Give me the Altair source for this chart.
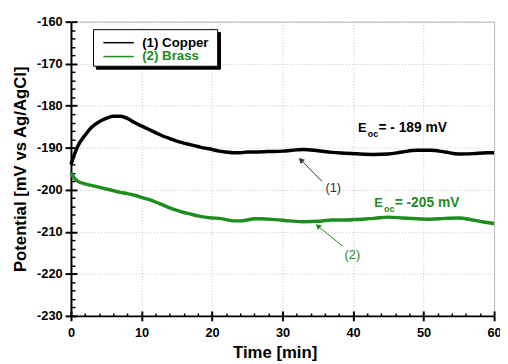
import altair as alt
import pandas as pd

FONT = "Liberation Sans"
GREEN = "#1e8c1e"

# ---- data ----
time_cu = [0, 0.5, 1, 2, 3, 4, 5, 6, 7, 8, 9, 10, 11, 12, 13, 14, 15, 16, 17, 18, 19, 20,
           21, 22, 23, 24, 25, 26, 28, 30, 32, 33, 35, 37, 39, 41, 43, 45, 47, 49, 51, 53,
           55, 57, 59, 60]
pot_cu = [-194.0, -191.5, -189.5, -187.0, -185.0, -183.8, -183.0, -182.5, -182.5, -183.0,
          -184.0, -184.8, -185.6, -186.4, -187.2, -187.8, -188.4, -188.9, -189.3, -189.7,
          -190.1, -190.4, -190.8, -191.0, -191.2, -191.2, -191.0, -191.0, -190.9, -190.8,
          -190.5, -190.4, -190.7, -191.1, -191.3, -191.5, -191.6, -191.5, -191.0, -190.6,
          -190.6, -191.0, -191.5, -191.4, -191.2, -191.2]

time_br = [0, 0.5, 1, 2, 3, 4, 5, 6, 7, 8, 9, 10, 11, 12, 13, 14, 15, 16, 17, 18, 19, 20,
           21, 22, 23, 24, 25, 26, 27, 29, 31, 33, 35, 37, 39, 41, 43, 45, 47, 49, 51, 53,
           55, 57, 59, 60]
pot_br = [-196.0, -197.3, -198.0, -198.6, -199.0, -199.4, -199.8, -200.2, -200.6, -200.9,
          -201.3, -201.8, -202.3, -202.9, -203.6, -204.3, -204.9, -205.4, -205.8, -206.2,
          -206.5, -206.7, -206.8, -207.1, -207.4, -207.4, -207.2, -206.9, -206.9, -207.1,
          -207.4, -207.6, -207.5, -207.2, -207.2, -207.0, -206.8, -206.5, -206.7, -206.9,
          -207.0, -206.8, -206.7, -207.2, -207.8, -208.0]

series_names = ["(1) Copper", "(2) Brass"]
series_colors = ["black", GREEN]

x_major = [0, 10, 20, 30, 40, 50, 60]
y_major = [-230, -220, -210, -200, -190, -180, -170, -160]
x_minor = [2, 4, 6, 8, 12, 14, 16, 18, 22, 24, 26, 28, 32, 34, 36, 38, 42, 44, 46, 48,
           52, 54, 56, 58]
y_minor = [-228, -226, -224, -222, -218, -216, -214, -212, -208, -206, -204, -202,
           -198, -196, -194, -192, -188, -186, -184, -182, -178, -176, -174, -172,
           -168, -166, -164, -162]

# E_oc annotations (positions in data units)
eoc_text = ["E", "oc", "= - 189 mV", "E", "oc", "= -205 mV"]
eoc_t = [40.7, 42.1, 43.6, 43.0, 44.4, 45.9]
eoc_v = [-185.2, -186.7, -185.2, -203.2, -204.6, -203.2]
eoc_size = [13, 9, 14, 13, 9, 14]
eoc_color = ["black", "black", "black", GREEN, GREEN, GREEN]

# arrow labels
lab_text = ["(1)", "(2)"]
lab_t = [37.2, 39.9]
lab_v = [-199.7, -215.6]
lab_color = ["#333333", GREEN]

# arrows: tail -> head
arr_t0 = [35.6, 38.5]
arr_v0 = [-198.0, -213.4]
arr_t1 = [32.6, 35.0]
arr_v1 = [-192.9, -208.6]
arr_angle = [315, 310]
arr_color = ["#333333", GREEN]

# legend box
leg_box_t = [3.2, 20.8]
leg_box_v = [-161.9, -170.6]
leg_shadow_t = [3.6, 21.2]
leg_shadow_v = [-162.6, -171.3]
leg_line_t = [4.6, 8.9]
leg_line_v = [-165.0, -168.3]
leg_text_t = 10.1

# ---- tables ----
df = pd.concat([
    pd.DataFrame({"t": time_cu, "v": pot_cu, "s": series_names[0]}),
    pd.DataFrame({"t": time_br, "v": pot_br, "s": series_names[1]}),
])
eoc = pd.DataFrame({"t": eoc_t, "v": eoc_v, "txt": eoc_text, "size": eoc_size, "c": eoc_color})
labs = pd.DataFrame({"t": lab_t, "v": lab_v, "txt": lab_text, "c": lab_color})
arr = pd.DataFrame({"t0": arr_t0, "v0": arr_v0, "t1": arr_t1, "v1": arr_v1,
                    "ang": arr_angle, "c": arr_color})
leg_lines = pd.DataFrame({"t0": [leg_line_t[0]] * 2, "t1": [leg_line_t[1]] * 2,
                          "v": leg_line_v, "s": series_names, "tt": [leg_text_t] * 2})
box = pd.DataFrame({"t0": [leg_shadow_t[0], leg_box_t[0]], "t1": [leg_shadow_t[1], leg_box_t[1]],
                    "v0": [leg_shadow_v[0], leg_box_v[0]], "v1": [leg_shadow_v[1], leg_box_v[1]],
                    "fill": ["black", "white"], "stroke": ["black", "black"]})

xs = alt.Scale(domain=[0, 60], nice=False, zero=False)
ys = alt.Scale(domain=[-230, -160], nice=False, zero=False)
cs = alt.Scale(domain=series_names, range=series_colors)

main_x = alt.Axis(values=x_major, title="Time [min]", orient="bottom",
                  labelFont=FONT, labelFontSize=13, labelFontWeight="bold", labelColor="black",
                  labelPadding=6, titleFont=FONT, titleFontSize=17, titleFontWeight="bold",
                  titleColor="black", titlePadding=5, titleX=207, domainColor="black",
                  domainWidth=2, tickColor="black", tickWidth=2, tickSize=5, grid=True,
                  gridColor="#c4c4c4", gridDash=[1, 2], gridWidth=1, labelFlush=False)
main_y = alt.Axis(values=y_major, title="Potential [mV vs Ag/AgCl]", orient="left",
                  labelFont=FONT, labelFontSize=13, labelFontWeight="bold", labelColor="black",
                  labelPadding=3, labelExpr="'' + datum.value",
                  titleFont=FONT, titleFontSize=17, titleFontWeight="bold",
                  titleColor="black", titlePadding=7, domainColor="black", domainWidth=2,
                  tickColor="black", tickWidth=2, tickSize=6, grid=True, gridColor="#c4c4c4",
                  gridDash=[1, 2], gridWidth=1, labelFlush=False)


def tick_axis(vals, orient, size, width):
    return alt.Axis(values=vals, orient=orient, title=None, labels=False, domain=False,
                    grid=False, ticks=True, tickSize=size, tickWidth=width,
                    tickColor="black", offset=-size)


lines = alt.Chart(df).mark_line(strokeWidth=3.5, interpolate="monotone").encode(
    x=alt.X("t:Q", scale=xs, axis=main_x),
    y=alt.Y("v:Q", scale=ys, axis=main_y),
    color=alt.Color("s:N", scale=cs, legend=None),
    detail="s:N",
)

inner_major = alt.Chart(df).mark_point(opacity=0).encode(
    x=alt.X("t:Q", scale=xs, axis=tick_axis(x_major, "bottom", 5, 2)),
    y=alt.Y("v:Q", scale=ys, axis=tick_axis(y_major, "left", 6, 2)),
)
inner_minor = alt.Chart(df).mark_point(opacity=0).encode(
    x=alt.X("t:Q", scale=xs, axis=tick_axis(x_minor, "bottom", 3, 1.5)),
    y=alt.Y("v:Q", scale=ys, axis=tick_axis(y_minor, "left", 4, 1.5)),
)

boxes = alt.Chart(box).mark_rect(strokeWidth=1).encode(
    x=alt.X("t0:Q", scale=xs, axis=None), x2="t1:Q",
    y=alt.Y("v0:Q", scale=ys, axis=None), y2="v1:Q",
    fill=alt.Fill("fill:N", scale=None), stroke=alt.Stroke("stroke:N", scale=None),
)
leg_rules = alt.Chart(leg_lines).mark_rule(strokeWidth=1.5).encode(
    x=alt.X("t0:Q", scale=xs, axis=None), x2="t1:Q",
    y=alt.Y("v:Q", scale=ys, axis=None),
    color=alt.Color("s:N", scale=cs, legend=None),
)
leg_texts = alt.Chart(leg_lines).mark_text(align="left", baseline="middle", font=FONT,
                                           fontSize=13.5, fontWeight="bold").encode(
    x=alt.X("tt:Q", scale=xs, axis=None),
    y=alt.Y("v:Q", scale=ys, axis=None),
    text="s:N",
    color=alt.Color("s:N", scale=cs, legend=None),
)

eoc_marks = alt.Chart(eoc).mark_text(align="left", baseline="middle", font=FONT,
                                     fontWeight="bold").encode(
    x=alt.X("t:Q", scale=xs, axis=None),
    y=alt.Y("v:Q", scale=ys, axis=None),
    text="txt:N",
    size=alt.Size("size:Q", scale=None, legend=None),
    color=alt.Color("c:N", scale=None),
)
lab_marks = alt.Chart(labs).mark_text(align="center", baseline="middle", font=FONT,
                                      fontSize=13).encode(
    x=alt.X("t:Q", scale=xs, axis=None),
    y=alt.Y("v:Q", scale=ys, axis=None),
    text="txt:N",
    color=alt.Color("c:N", scale=None),
)

arrow_lines = alt.Chart(arr).mark_rule(strokeWidth=1).encode(
    x=alt.X("t0:Q", scale=xs, axis=None), x2="t1:Q",
    y=alt.Y("v0:Q", scale=ys, axis=None), y2="v1:Q",
    color=alt.Color("c:N", scale=None),
)
arrow_heads = alt.Chart(arr).mark_point(shape="triangle-up", filled=True, size=40, opacity=1).encode(
    x=alt.X("t1:Q", scale=xs, axis=None),
    y=alt.Y("v1:Q", scale=ys, axis=None),
    angle=alt.Angle("ang:Q", scale=None),
    color=alt.Color("c:N", scale=None),
)

chart = alt.layer(
    lines, inner_major, inner_minor, boxes, leg_rules, leg_texts, eoc_marks, lab_marks,
    arrow_lines, arrow_heads
).resolve_axis(x="independent", y="independent").properties(
    width=430, height=299,
    background="white",
    autosize=alt.AutoSizeParams(type="none"),
    padding={"left": 64, "top": 11, "right": 6, "bottom": 46},
).configure_view(stroke="#b5b5b5", strokeWidth=1)

chart.save("out.html", embed_options={"renderer": "svg", "actions": False})
